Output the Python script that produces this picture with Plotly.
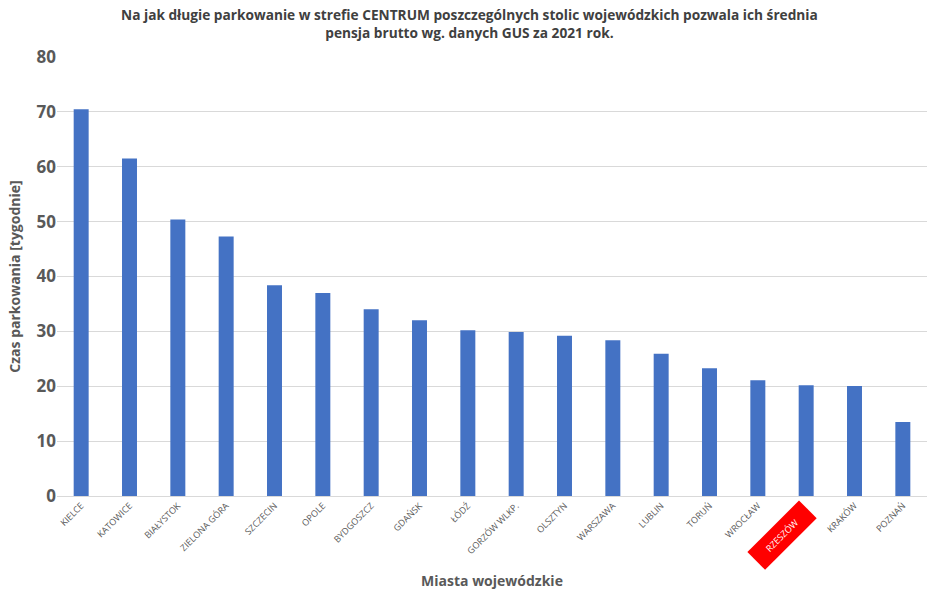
import plotly.graph_objects as go

cities = ["KIELCE", "KATOWICE", "BIAŁYSTOK", "ZIELONA GÓRA", "SZCZECIN", "OPOLE",
          "BYDGOSZCZ", "GDAŃSK", "ŁÓDŹ", "GORZÓW WLKP.", "OLSZTYN", "WARSZAWA",
          "LUBLIN", "TORUŃ", "WROCŁAW", "RZESZÓW", "KRAKÓW", "POZNAŃ"]
weeks = [70.5, 61.5, 50.4, 47.3, 38.4, 37.0, 34.05, 32.05, 30.2, 29.9, 29.2, 28.4,
         25.9, 23.3, 21.1, 20.2, 20.05, 13.5]
highlight = "RZESZÓW"
y_ticks = [0, 10, 20, 30, 40, 50, 60, 70, 80]

title = ("Na jak długie parkowanie w strefie CENTRUM poszczególnych stolic wojewódzkich pozwala ich średnia<br>"
         "pensja brutto wg. danych GUS za 2021 rok.")

ticktext = ["" if c == highlight else c for c in cities]

fig = go.Figure()
fig.add_trace(go.Bar(x=cities, y=weeks, marker_color="#4472c4", marker_line_width=0))

fig.add_annotation(x=highlight, y=0, xref="x", yref="y", text=highlight,
                   textangle=-45, showarrow=False, bgcolor="#ff0000",
                   font=dict(color="white", size=9, family="Open Sans"),
                   xanchor="center", yanchor="middle", xshift=-24, yshift=-39,
                   width=70, height=22, borderpad=1)

fig.add_annotation(x=0.5, y=1, xref="paper", yref="paper", yanchor="bottom",
                   xanchor="center", yshift=13, xshift=-23, showarrow=False, text=title,
                   font=dict(family="Open Sans", size=13.7, color="#404040", weight="bold"))

fig.update_layout(
    width=933, height=593,
    margin=dict(l=57, r=6, t=57, b=97),
    paper_bgcolor="white", plot_bgcolor="white",
    bargap=0.69,
    showlegend=False,
    font=dict(family="Open Sans", color="#595959"),
    xaxis=dict(tickmode="array", tickvals=cities, ticktext=ticktext,
               tickangle=-45, tickfont=dict(size=9, color="#595959"),
               showgrid=False, showline=True, linecolor="#d9d9d9",
               ticks="", title=dict(text="Miasta wojewódzkie",
                                    font=dict(size=14, color="#595959", weight="bold"),
                                    standoff=20)),
    yaxis=dict(range=[0, 80], tickvals=y_ticks, showgrid=True, gridcolor="#d9d9d9",
               zeroline=False, ticks="", tickfont=dict(size=17, color="#595959", weight="bold"),
               title=dict(text="Czas parkowania [tygodnie]",
                          font=dict(size=14, color="#595959", weight="bold"), standoff=12)),
)

fig.write_html("out.html")
